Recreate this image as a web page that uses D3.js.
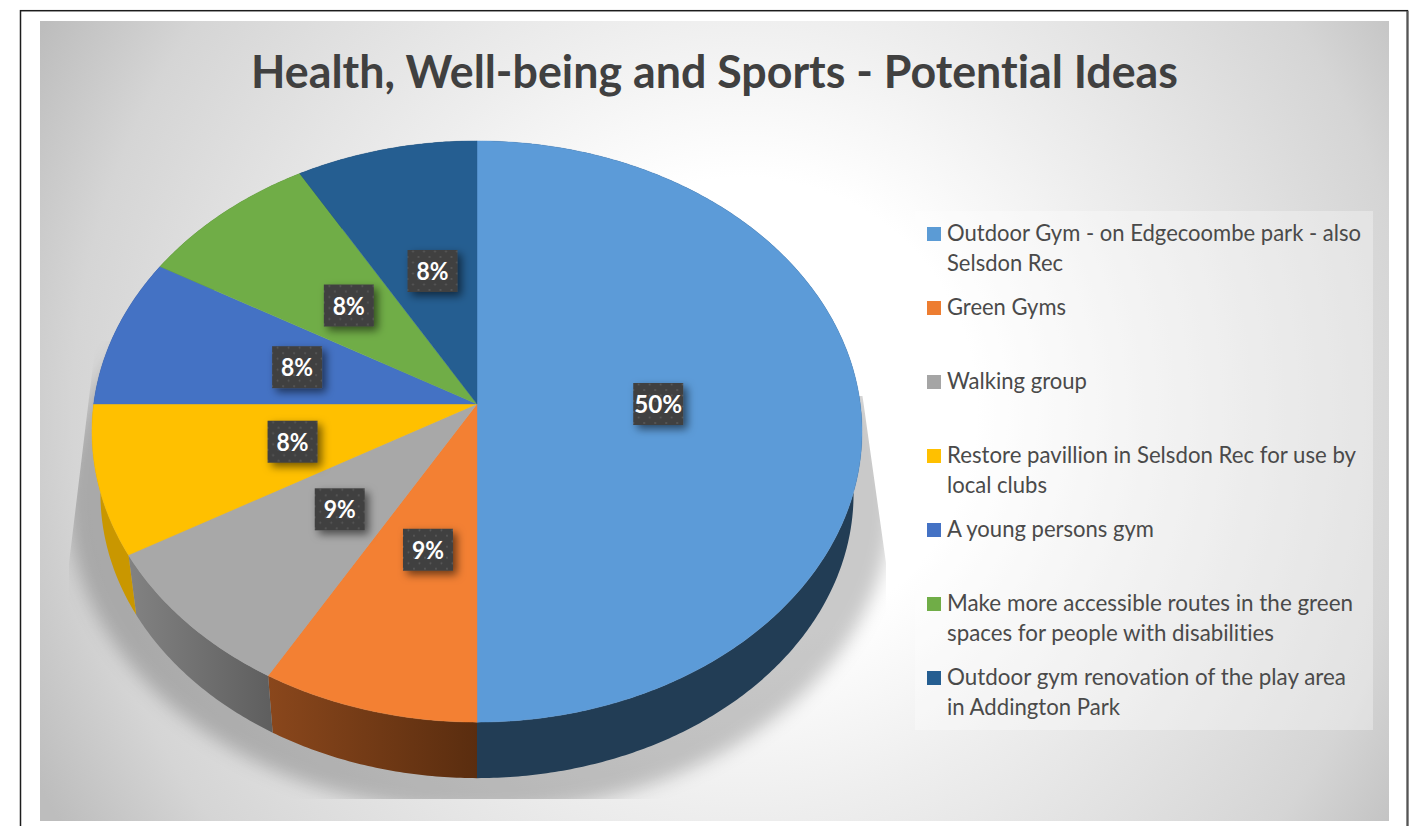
<!DOCTYPE html>
<html><head><meta charset="utf-8">
<script src="https://cdn.jsdelivr.net/npm/d3@7/dist/d3.min.js"></script>
<style>html,body{margin:0;padding:0;background:#fff;overflow:hidden}svg{display:block}text{font-family:Lato,Carlito,sans-serif;font-variant-ligatures:none}</style>
</head><body><svg id="c" width="1414" height="826"></svg>
<script>
const chartTitle = "Health, Well-being and Sports - Potential Ideas";
const categories = [
  ["Outdoor Gym - on Edgecoombe park - also","Selsdon Rec"],
  ["Green Gyms"],
  ["Walking group"],
  ["Restore pavillion in Selsdon Rec for use by","local clubs"],
  ["A young persons gym"],
  ["Make more accessible routes in the green","spaces for people with disabilities"],
  ["Outdoor gym renovation of the play area","in Addington Park"]
];
const legendLineWidths = [[414,116],[119],[140],[409,100],[207],[406,327],[399,173]];
const sliceValues = [50,8.34,8.33,8.33,8.33,8.33,8.34];
const sliceLabels = ["50%","9%","9%","8%","8%","8%","8%"];
const topColors = ["#5c9bd8","#f38033","#a8a8a8","#ffc000","#4472c4","#70ad47","#255e91"];
const legendColors = ["#5b9bd5","#ed7d31","#a5a5a5","#ffc000","#4472c4","#70ad47","#255e91"];
const wallColors = [["#223d55","#223d55"],["#8a471c","#5a2d0f"],["#828282","#5e5e5e"],["#c99700","#c99700"],["#2a4578","#2a4578"],["#446a2b","#446a2b"],["#163958","#163958"]];

const svg = d3.select("#c");
const defs = svg.append("defs");

// frame
svg.append("rect").attr("x",20.5).attr("y",10.7).attr("width",1387).attr("height",840)
  .attr("fill","#fff").attr("stroke","#1c1c1c").attr("stroke-width",1.5);
svg.append("line").attr("x1",1407.5).attr("x2",1407.5).attr("y1",11).attr("y2",826).attr("stroke","#555").attr("stroke-width",2);

// background
const bg = defs.append("radialGradient").attr("id","bg").attr("gradientUnits","userSpaceOnUse")
  .attr("cx",745).attr("cy",410).attr("r",800);
[[0,"#fff"],[.29,"#fff"],[.5,"#eeeeee"],[.84,"#d5d5d5"],[1,"#bdbdbd"]].forEach(s=>bg.append("stop").attr("offset",s[0]).attr("stop-color",s[1]));
svg.append("rect").attr("x",40).attr("y",21).attr("width",1349).attr("height",800).attr("fill","url(#bg)");

// title
svg.append("text").attr("x",714.5).attr("y",88).attr("text-anchor","middle")
  .attr("font-size",46).attr("font-weight",700).attr("fill","#404040")
  .attr("textLength",927).attr("lengthAdjust","spacingAndGlyphs").text(chartTitle);

// projection of the pie disk
const cx=477, cyTop=404, rx=383.3, sy=288, k=0.0947, depthScale=0.978, cyLow=467;
function project(angle,t,low){
  const x=t*Math.sin(angle), y=-t*Math.cos(angle), w=1-k*y;
  const s=low?depthScale:1, cy=low?cyLow:cyTop;
  return [cx+s*rx*x/w, cy+s*sy*y/w];
}
const pie = d3.pie().sort(null).value(d=>d).startAngle(0).endAngle(2*Math.PI);
const arcs = pie(sliceValues);
const samples=(a,b)=>{const n=Math.max(2,Math.ceil((b-a)/0.01));return d3.range(n+1).map(i=>a+(b-a)*i/n);};
const line=d3.line();

// shadow
const blur=defs.append("filter").attr("id","sblur").attr("x","-20%").attr("y","-20%").attr("width","140%").attr("height","140%");
blur.append("feGaussianBlur").attr("stdDeviation",9);
const clipShadow=defs.append("clipPath").attr("id","sclip");
clipShadow.append("path").attr("d","M96,340L69,563L69,799L886,799L886,563L862.5,396L800,396Z");
svg.append("g").attr("clip-path","url(#sclip)")
  .append("ellipse").attr("cx",480).attr("cy",500).attr("rx",412).attr("ry",312)
  .attr("fill","#000").attr("fill-opacity",.21).attr("filter","url(#sblur)");

// walls
arcs.forEach((d,i)=>{
  const as=samples(d.startAngle,d.endAngle);
  const pts=as.map(a=>project(a,1,false)).concat(as.slice().reverse().map(a=>project(a,1,true)));
  const xs=pts.map(p=>p[0]);
  const id="w"+i;
  const g=defs.append("linearGradient").attr("id",id).attr("gradientUnits","userSpaceOnUse")
    .attr("x1",d3.min(xs)).attr("x2",d3.max(xs)).attr("y1",0).attr("y2",0);
  g.append("stop").attr("offset",0).attr("stop-color",wallColors[i][0]);
  g.append("stop").attr("offset",1).attr("stop-color",wallColors[i][1]);
  svg.append("path").attr("d",line(pts)+"Z").attr("fill",`url(#${id})`);
});

// top faces
arcs.forEach((d,i)=>{
  const pts=[project(0,0,false)].concat(samples(d.startAngle,d.endAngle).map(a=>project(a,1,false)));
  svg.append("path").attr("d",line(pts)+"Z").attr("fill",topColors[i]).attr("stroke",topColors[i]).attr("stroke-width",.4);
});

// data labels
const pat=defs.append("pattern").attr("id","dots").attr("patternUnits","userSpaceOnUse").attr("width",11).attr("height",11);
pat.append("rect").attr("width",11).attr("height",11).attr("fill","#404040");
[[2.5,2.5],[8,8]].forEach(p=>pat.append("circle").attr("cx",p[0]).attr("cy",p[1]).attr("r",.9).attr("fill","#5c5c5c"));
const ds=defs.append("filter").attr("id","ds").attr("x","-30%").attr("y","-30%").attr("width","170%").attr("height","170%");
ds.append("feDropShadow").attr("dx",4).attr("dy",4).attr("stdDeviation",4).attr("flood-color","#000").attr("flood-opacity",.55);
arcs.forEach((d,i)=>{
  const mid=(d.startAngle+d.endAngle)/2;
  const p=project(mid,d.value>=50?.465:.5,false);
  const g=svg.append("g").attr("transform",`translate(${p[0]+3},${p[1]})`);
  g.append("rect").attr("x",-25).attr("y",-21).attr("width",50).attr("height",42).attr("fill","url(#dots)").attr("filter","url(#ds)");
  g.append("text").attr("y",9).attr("text-anchor","middle").attr("font-size",25).attr("font-weight",700).attr("fill","#fff")
    .attr("textLength",sliceLabels[i].length===3?48:32).attr("lengthAdjust","spacingAndGlyphs").text(sliceLabels[i]);
});

// legend
svg.append("rect").attr("x",915).attr("y",211).attr("width",458).attr("height",519).attr("fill","#fff").attr("fill-opacity",.32);
const legendY=d3.scaleLinear().domain([0,6]).range([233,677]);
categories.forEach((lines,i)=>{
  svg.append("rect").attr("x",927).attr("y",legendY(i)-6).attr("width",14).attr("height",14).attr("fill",legendColors[i]);
  lines.forEach((t,j)=>{
    svg.append("text").attr("x",947).attr("y",legendY(i)+8+j*30).attr("font-size",22.5).attr("fill","#4a4a4a")
      .attr("textLength",legendLineWidths[i][j]).attr("lengthAdjust","spacingAndGlyphs").text(t);
  });
});
</script></body></html>
